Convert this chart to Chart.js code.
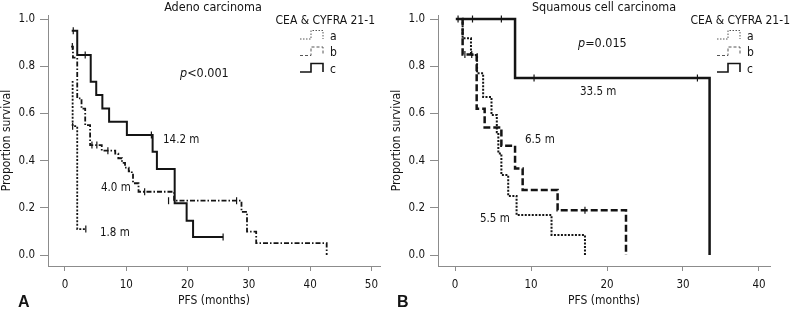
<!DOCTYPE html>
<html>
<head>
<meta charset="utf-8">
<script src="https://cdn.jsdelivr.net/npm/chart.js@4.4.1/dist/chart.umd.min.js"></script>
<style>
  body { margin: 0; background: #fff; }
  .wrap { position: relative; width: 791px; height: 311px; }
  canvas { position: absolute; left: 0; top: 0; }
</style>
</head>
<body>
<div class="wrap">
  <canvas id="chartA" width="791" height="311"></canvas>
  <canvas id="chartB" width="791" height="311"></canvas>
</div>
<script>
// ---- Panel A: Adeno carcinoma (PFS in months, proportion surviving) ----
const adenoA_time = [1.1, 1.25, 2.0, 3.4];
const adenoA_surv = [0.734, 0.546, 0.11, 0.11];
const adenoA_censTime = [1.25, 3.4];
const adenoA_censSurv = [0.546, 0.11];

const adenoB_time = [1.0, 1.3, 2.0, 2.7, 3.3, 4.1, 6.0, 8.2, 8.7, 9.3, 9.8, 10.4, 10.9, 11.1, 12.0, 17.8, 28.8, 29.7, 31.2, 42.7];
const adenoB_surv = [0.883, 0.836, 0.664, 0.62, 0.55, 0.466, 0.442, 0.43, 0.41, 0.39, 0.37, 0.355, 0.346, 0.304, 0.268, 0.23, 0.183, 0.099, 0.05, 0.0];
const adenoB_censTime = [1.2, 4.4, 5.2, 7.0, 13.0, 16.9, 28.0];
const adenoB_censSurv = [0.883, 0.466, 0.466, 0.442, 0.268, 0.23, 0.23];

const adenoC_time = [1.1, 2.0, 4.2, 5.1, 6.1, 7.2, 10.1, 14.3, 15.0, 17.9, 19.85, 20.9, 25.8];
const adenoC_surv = [0.95, 0.847, 0.734, 0.678, 0.621, 0.565, 0.508, 0.437, 0.364, 0.219, 0.145, 0.076, 0.076];
const adenoC_censTime = [1.35, 3.3, 14.1, 25.8];
const adenoC_censSurv = [0.95, 0.847, 0.508, 0.076];

// ---- Panel B: Squamous cell carcinoma ----
const squamA_time = [0.9, 1.0, 2.1, 2.9, 3.7, 4.8, 5.5, 5.7, 6.1, 7.0, 8.1, 12.7, 17.1];
const squamA_surv = [1.0, 0.918, 0.847, 0.77, 0.67, 0.593, 0.52, 0.43, 0.339, 0.25, 0.169, 0.085, 0.0];

const squamB_time = [0.9, 1.0, 2.85, 3.9, 6.1, 7.9, 8.9, 13.5, 22.5];
const squamB_surv = [1.0, 0.85, 0.62, 0.54, 0.463, 0.367, 0.275, 0.19, 0.0];
const squamB_censTime = [1.3, 2.2, 17.1];
const squamB_censSurv = [0.85, 0.85, 0.19];

const squamC_time = [0.1, 7.9, 33.5];
const squamC_surv = [1.0, 0.75, 0.0];
const squamC_censTime = [0.4, 2.3, 6.1, 10.4, 31.9];
const squamC_censSurv = [1.0, 1.0, 1.0, 0.75, 0.75];

const yTicks = [0.0, 0.2, 0.4, 0.6, 0.8, 1.0];
const xTicksA = [0, 10, 20, 30, 40, 50];
const xTicksB = [0, 10, 20, 30, 40];
const groupLabels = ['a', 'b', 'c'];

const FONT = "'DejaVu Sans Condensed', 'Liberation Sans Narrow', sans-serif";
const INK = '#141414';
const AXIS = '#8c8c8c';

const pts = (t, s) => t.map((v, i) => ({ x: v, y: s[i] }));

function curve(t, s, dash, width) {
    return {
        data: pts(t, s), stepped: true, borderColor: INK, borderWidth: width,
        borderDash: dash, pointRadius: 0, fill: false, tension: 0
    };
}

function censored(t, s) {
    return {
        data: pts(t, s), showLine: false, pointStyle: 'line', rotation: 90,
        pointRadius: 3.5, borderColor: INK, borderWidth: 1.2, backgroundColor: INK
    };
}

// text, legend and panel letter drawn on top of each panel
function panelDecor(p) {
    return {
        id: 'decor' + p.letter,
        afterDraw(chart) {
            const ctx = chart.ctx;
            ctx.save();
            ctx.fillStyle = INK;
            ctx.textBaseline = 'alphabetic';

            ctx.font = '12.5px ' + FONT;
            ctx.textAlign = 'center';
            ctx.fillText(p.title, p.titleX, 11);

            ctx.font = '12px ' + FONT;
            ctx.textAlign = 'right';
            ctx.fillText('CEA & CYFRA 21-1', p.legendRight, 24);

            // p value with italic p
            ctx.textAlign = 'left';
            ctx.font = 'italic 12.5px ' + FONT;
            ctx.fillText('p', p.pX, p.pY);
            const pw = ctx.measureText('p').width;
            ctx.font = '12.5px ' + FONT;
            ctx.fillText(p.pText, p.pX + pw, p.pY);

            ctx.font = '11.5px ' + FONT;
            p.notes.forEach(n => ctx.fillText(n[0], n[1], n[2]));

            // legend step icons
            ctx.font = '12px ' + FONT;
            groupLabels.forEach((g, i) => {
                const top = 30.5 + i * 16.5, bot = top + 8.5;
                const x0 = p.iconX, x1 = x0 + 11, x2 = x0 + 23;
                ctx.save();
                ctx.strokeStyle = i === 2 ? INK : '#555';
                ctx.lineWidth = i === 2 ? 1.6 : 1;
                ctx.setLineDash(p.legendDash[i]);
                ctx.beginPath();
                ctx.moveTo(x0, bot); ctx.lineTo(x1, bot); ctx.lineTo(x1, top);
                ctx.lineTo(x2, top); ctx.lineTo(x2, bot);
                ctx.stroke();
                ctx.restore();
                ctx.fillText(g, x2 + 7, bot + 0.5);
            });

            ctx.font = 'bold 16px "Liberation Sans", Arial, sans-serif';
            ctx.fillText(p.letter, p.letterX, 307);
            ctx.restore();
        }
    };
}

function makePanel(id, p) {
    new Chart(document.getElementById(id), {
        type: 'line',
        data: { datasets: p.datasets },
        options: {
            responsive: false,
            animation: false,
            layout: { padding: p.padding },
            plugins: { legend: { display: false }, tooltip: { enabled: false } },
            scales: {
                x: {
                    type: 'linear', min: p.xMin, max: p.xMax,
                    afterFit: (s) => { s.height = 45; },
                    afterBuildTicks: (s) => { s.ticks = p.xTicks.map(v => ({ value: v })); },
                    border: { color: AXIS, width: 1 },
                    grid: { drawOnChartArea: false, color: AXIS, tickLength: 5 },
                    ticks: { color: INK, font: { family: FONT, size: 11.5 }, padding: 7, maxRotation: 0, autoSkip: false },
                    title: { display: true, text: 'PFS (months)', color: INK, font: { family: FONT, size: 12 }, padding: { top: 0, bottom: 3 } }
                },
                y: {
                    min: -0.0466, max: 1.017,
                    afterFit: (s) => { s.width = 48; },
                    afterBuildTicks: (s) => { s.ticks = yTicks.map(v => ({ value: v })); },
                    border: { color: AXIS, width: 1 },
                    grid: { drawOnChartArea: false, color: AXIS, tickLength: 8 },
                    ticks: { color: INK, font: { family: FONT, size: 11.5 }, padding: 5, callback: (v) => v.toFixed(1) },
                    title: { display: true, text: 'Proportion survival', color: INK, font: { family: FONT, size: 12 }, padding: 0 }
                }
            }
        },
        plugins: [panelDecor(p)]
    });
}

makePanel('chartA', {
    letter: 'A', letterX: 18,
    padding: { left: 0, right: 411, top: 15, bottom: 0 },
    xMin: -2.77, xMax: 51.4, xTicks: xTicksA,
    title: 'Adeno carcinoma', titleX: 213,
    legendRight: 375, iconX: 300,
    pText: '<0.001', pX: 180, pY: 77,
    notes: [['14.2 m', 163, 143], ['4.0 m', 101, 191], ['1.8 m', 100, 236]],
    legendDash: [[1.5, 1.5], [3, 2], []],
    datasets: [
        curve(adenoA_time, adenoA_surv, [2, 1.6], 1.8),
        curve(adenoB_time, adenoB_surv, [5, 2, 1.5, 2], 1.8),
        curve(adenoC_time, adenoC_surv, [], 2),
        censored(adenoA_censTime, adenoA_censSurv),
        censored(adenoB_censTime, adenoB_censSurv),
        censored(adenoC_censTime, adenoC_censSurv)
    ]
});

makePanel('chartB', {
    letter: 'B', letterX: 397,
    padding: { left: 390, right: 21, top: 15, bottom: 0 },
    xMin: -2.24, xMax: 41.45, xTicks: xTicksB,
    title: 'Squamous cell carcinoma', titleX: 604,
    legendRight: 790, iconX: 717,
    pText: '=0.015', pX: 578, pY: 47,
    notes: [['33.5 m', 580, 95], ['6.5 m', 525, 143], ['5.5 m', 480, 222]],
    legendDash: [[1.5, 1.5], [3, 2], []],
    datasets: [
        curve(squamA_time, squamA_surv, [2, 1.5], 2),
        curve(squamB_time, squamB_surv, [7, 3], 2.5),
        curve(squamC_time, squamC_surv, [], 2.5),
        censored(squamB_censTime, squamB_censSurv),
        censored(squamC_censTime, squamC_censSurv)
    ]
});
</script>
</body>
</html>
